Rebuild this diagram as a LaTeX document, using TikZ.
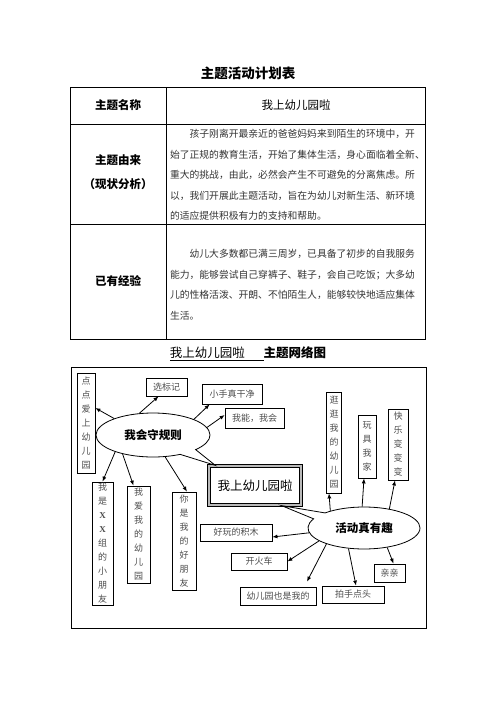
\documentclass[tikz,border=0pt]{standalone}
\usepackage{fontspec}
\setmainfont{Noto Sans CJK SC}
\newfontfamily\xfont{Liberation Serif}
\usetikzlibrary{shapes.callouts,arrows.meta}

\tikzset{
  vbox/.style={draw, line width=0.8pt, text=black!70, inner xsep=2pt, inner ysep=1pt,
    align=center, font=\fontsize{9}{14}\selectfont},
  hbox/.style={draw, line width=0.8pt, text=black!70, inner sep=1pt, minimum height=18pt,
    font=\fontsize{9}{11}\selectfont},
  bubble/.style={ellipse callout, draw, line width=0.8pt, callout pointer arc=20,
    font=\bfseries\fontsize{11.5}{13}\selectfont},
  link/.style={-{Latex[length=5pt,width=4pt]}, line width=0.8pt},
  head/.style={font=\bfseries\fontsize{11.5}{24}\selectfont, align=center},
  body/.style={text width=248pt, align=left, text=black!80, font=\fontsize{9.8}{20.5}\selectfont},
}

\begin{document}
\begin{tikzpicture}[x=1pt,y=-1pt]
\useasboundingbox (0,0) rectangle (496,702);

% ----------------------------------------------------------
% Plan table
% ----------------------------------------------------------
\node[font=\bfseries\fontsize{13.5}{15}\selectfont] (title) at (248,73) {主题活动计划表};

\draw[line width=1pt] (70,87) rectangle (425,339);
\draw[line width=1pt] (70,124) -- (425,124);
\draw[line width=1pt] (70,224) -- (425,224);
\draw[line width=1pt] (166,87) -- (166,339);

\node[head] (mc) at (118,105) {主题名称};
\node[font=\fontsize{11.5}{13}\selectfont] (mcv) at (296,105) {我上幼儿园啦};

\node[head] (yl) at (118,172) {主题由来\\（现状分析）};
\node[body] (ylv) at (294,175) {\hspace*{2em}孩子刚离开最亲近的爸爸妈妈来到陌生的环境中，开\\
始了正规的教育生活，开始了集体生活，身心面临着全新、\\
重大的挑战，由此，必然会产生不可避免的分离焦虑。所\\
以，我们开展此主题活动，旨在为幼儿对新生活、新环境\\
的适应提供积极有力的支持和帮助。};

\node[head] (jy) at (118,281) {已有经验};
\node[body] (jyv) at (294,284.5) {\hspace*{2em}幼儿大多数都已满三周岁，已具备了初步的自我服务\\
能力，能够尝试自己穿裤子、鞋子，会自己吃饭；大多幼\\
儿的性格活泼、开朗、不怕陌生人，能够较快地适应集体\\
生活。};

% ----------------------------------------------------------
% Network frame
% ----------------------------------------------------------
\node[font=\fontsize{12.5}{14}\selectfont] (sub) at (248,354)
  {\underline{我上幼儿园啦\hspace{1.5em}}\textbf{主题网络图}};
\draw[line width=1pt] (71,367) rectangle (426,628);

% ----------------------------------------------------------
% Centre and bubbles
% ----------------------------------------------------------
\node[draw, fill=white, line width=1.3pt, double=gray!55, double distance=1.6pt,
  minimum width=92pt, minimum height=39pt, font=\fontsize{12.5}{14}\selectfont]
  (zhu) at (255,485.5) {我上幼儿园啦};

\node[bubble, minimum width=114pt, minimum height=44pt,
  callout absolute pointer={([xshift=7pt]zhu.north west)}] (e1) at (153,435) {我会守规则};
\node[bubble, minimum width=112pt, minimum height=42pt,
  callout absolute pointer={([xshift=-20pt]zhu.south east)}] (e2) at (364,528) {活动真有趣};

% ----------------------------------------------------------
% Rules branch
% ----------------------------------------------------------
\node[vbox, minimum width=18pt, minimum height=100pt] (dd) at (86,423) {点\\点\\爱\\上\\幼\\儿\\园};
\node[hbox, minimum width=41pt] (xbj) at (166.5,387) {选标记};
\node[hbox, minimum width=60pt, minimum height=20pt] (xs) at (232,394) {小手真干净};
\node[hbox, minimum width=59pt, minimum height=20pt] (wn) at (254.5,418) {我能，我会};
\node[vbox, minimum width=21pt, minimum height=123pt] (ws) at (102.5,543.5)
  {我\\是\\{\xfont\bfseries X}\\{\xfont\bfseries X}\\组\\的\\小\\朋\\友};
\node[vbox, minimum width=23pt, minimum height=97pt] (wa) at (138.5,534.5) {我\\爱\\我\\的\\幼\\儿\\园};
\node[vbox, minimum width=24pt, minimum height=98pt] (ns) at (184,541) {你\\是\\我\\的\\好\\朋\\友};

\draw[link] (e1.157) -- ([yshift=15pt]dd.east);
\draw[link] (e1.122) -- ([xshift=-8pt]xbj.south);
\draw[link] (e1.21) -- ([xshift=8pt]xs.south west);
\draw[link] (e1.8) -- ([yshift=3pt]wn.west);
\draw[link] (e1.-156) -- (ws.north);
\draw[link] (e1.-148) -- ([xshift=-5pt]wa.north);
\draw[link] (e1.-61) -- ([xshift=3pt]ns.north);

% ----------------------------------------------------------
% Fun branch
% ----------------------------------------------------------
\node[vbox, minimum width=15pt, minimum height=101pt] (gg) at (334,442.5) {逛\\逛\\我\\的\\幼\\儿\\园};
\node[vbox, minimum width=18pt, minimum height=63pt] (wj) at (367,446.5) {玩\\具\\我\\家};
\node[vbox, minimum width=20pt, minimum height=71pt] (kl) at (398,444.5) {快\\乐\\变\\变\\变};
\node[hbox, minimum width=72pt, minimum height=17pt] (hw) at (236,532.5) {好玩的积木};
\node[hbox, minimum width=56pt, minimum height=17pt] (khc) at (259,561.5) {开火车};
\node[hbox, minimum width=76pt] (yey) at (278,596) {幼儿园也是我的};
\node[hbox, minimum width=62pt, minimum height=17pt] (ps) at (353,594.5) {拍手点头};
\node[hbox, minimum width=31pt] (qq) at (389.5,573) {亲亲};

\draw[link] (e2.153) -- ([xshift=-5pt]gg.south);
\draw[link] (e2.95) -- ([xshift=-3pt]wj.south);
\draw[link] (e2.37) -- ([xshift=-3pt]kl.south);
\draw[link] (e2.185) -- ([yshift=-4.5pt]hw.east);
\draw[link] (e2.196) -- (khc.east);
\draw[link] (e2.203) -- ([xshift=29pt,yshift=5pt]yey.north);
\draw[link] (e2.-127) -- ([xshift=3pt]ps.north);
\draw[link] (e2.-40) -- ([xshift=4pt]qq.north);

\end{tikzpicture}
\end{document}
